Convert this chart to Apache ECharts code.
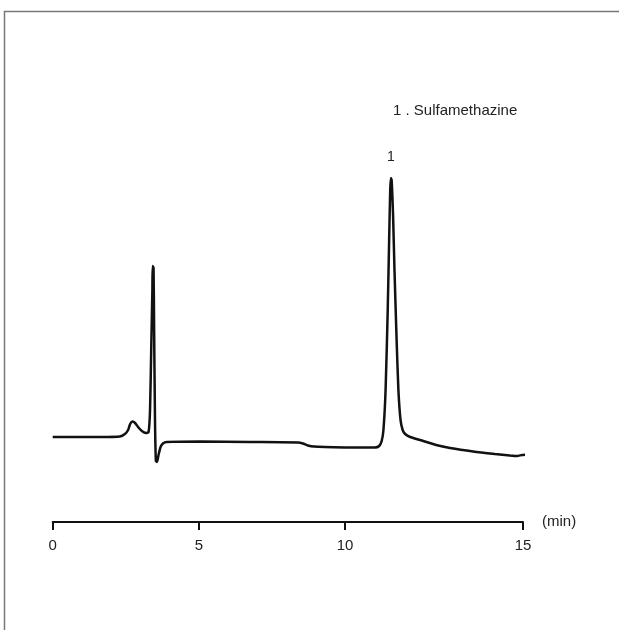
<!DOCTYPE html>
<html>
<head>
<meta charset="utf-8">
<script src="https://cdn.jsdelivr.net/npm/echarts@6/dist/echarts.min.js"></script>
<style>
html,body{margin:0;padding:0;background:#fff;}
#chart{width:619px;height:630px;}
</style>
</head>
<body>
<div id="chart"></div>
<script>
// retention time (min) and detector response (arbitrary units, baseline = 0)
// part A : 0 - 10 min
var timeA = [0.00, 1.62, 2.30, 2.47, 2.58, 2.65, 2.73, 2.82, 2.92, 3.05, 3.19, 3.28, 3.33, 3.37, 3.41, 3.42, 3.45, 3.47, 3.50, 3.53, 3.57, 3.62, 3.69, 3.77, 3.91, 5.04, 6.75, 8.39, 8.56, 8.73, 8.94, 10.00];
var signalA = [0, 0, 0.5, 3, 7, 13, 15.5, 14, 10, 6, 4, 5, 27, 87, 147, 171, 169, 107, 17, -24, -25, -18, -10, -6.5, -5, -4.5, -5, -5.5, -6.5, -8.5, -9.5, -10.5];
// part B : 10 - 15 min (axis is drawn wider here on the original recorder trace)
var timeB = [10.00, 10.56, 10.84, 10.96, 11.03, 11.08, 11.14, 11.20, 11.24, 11.27, 11.29, 11.31, 11.35, 11.39, 11.45, 11.50, 11.56, 11.62, 11.69, 11.83, 12.11, 12.56, 12.95, 13.60, 14.21, 14.63, 14.83, 14.97, 15.11];
var signalB = [-10.5, -10.5, -10.5, -9, -4, 7, 47, 127, 197, 247, 259, 257, 222, 167, 97, 47, 17, 7, 3, 0, -3, -8, -11, -14.5, -17, -18.5, -19, -18, -17.5];

var tickLabels = ['0', '5', '10', '15'];
var peakName = '1 . Sulfamethazine';
var peakLabel = '1';

function pairs(xs, ys) {
    var out = [];
    for (var i = 0; i < xs.length; i++) {
        out.push([xs[i], ys[i]]);
    }
    return out;
}

var myChart = echarts.init(document.getElementById('chart'));
var txt = {color: '#222', fontFamily: 'Liberation Sans', fontSize: 15};

option = {
    backgroundColor: '#fff',
    animation: false,
    title: {
        text: peakName,
        left: 388,
        top: 98,
        textStyle: {color: '#222', fontFamily: 'Liberation Sans', fontSize: 15, fontWeight: 'normal'}
    },
    graphic: [{
        type: 'polyline',
        shape: {points: [[4.5, 630], [4.5, 11.5], [619, 11.5]]},
        style: {stroke: '#777', lineWidth: 1.5, fill: null}
    }],
    grid: [
        {left: 52.7, width: 292.3, top: 22, height: 500},
        {left: 345, width: 178, top: 22, height: 500}
    ],
    xAxis: [
        {
            gridIndex: 0, type: 'value', min: 0, max: 10, interval: 5,
            axisLine: {onZero: false, lineStyle: {color: '#111', width: 2}},
            axisTick: {length: 8, lineStyle: {color: '#111', width: 2}},
            axisLabel: Object.assign({margin: 16, formatter: function (v) { return tickLabels[v / 5]; }}, txt),
            splitLine: {show: false}
        },
        {
            gridIndex: 1, type: 'value', min: 10, max: 15, interval: 5,
            name: '(min)', nameLocation: 'end', nameGap: 19,
            nameTextStyle: Object.assign({padding: [0, 0, 8, 0]}, txt),
            axisLine: {onZero: false, lineStyle: {color: '#111', width: 2}},
            axisTick: {length: 8, lineStyle: {color: '#111', width: 2}},
            axisLabel: Object.assign({margin: 16, showMinLabel: false, formatter: function (v) { return tickLabels[v / 5]; }}, txt),
            splitLine: {show: false}
        }
    ],
    yAxis: [
        {gridIndex: 0, type: 'value', min: -85, max: 415, show: false},
        {gridIndex: 1, type: 'value', min: -85, max: 415, show: false}
    ],
    series: [
        {
            type: 'line', xAxisIndex: 0, yAxisIndex: 0,
            data: pairs(timeA, signalA),
            showSymbol: false, smooth: 0.2, clip: false,
            lineStyle: {color: '#111', width: 2.5}
        },
        {
            type: 'line', xAxisIndex: 1, yAxisIndex: 1,
            data: pairs(timeB, signalB),
            showSymbol: false, smooth: 0.2, clip: false,
            lineStyle: {color: '#111', width: 2.5},
            markPoint: {
                symbol: 'circle', symbolSize: 0,
                data: [{coord: [11.29, 259]}],
                label: {show: true, position: 'top', distance: 14, formatter: peakLabel,
                    color: '#222', fontFamily: 'Liberation Sans', fontSize: 14}
            }
        }
    ]
};
myChart.setOption(option);
</script>
</body>
</html>
